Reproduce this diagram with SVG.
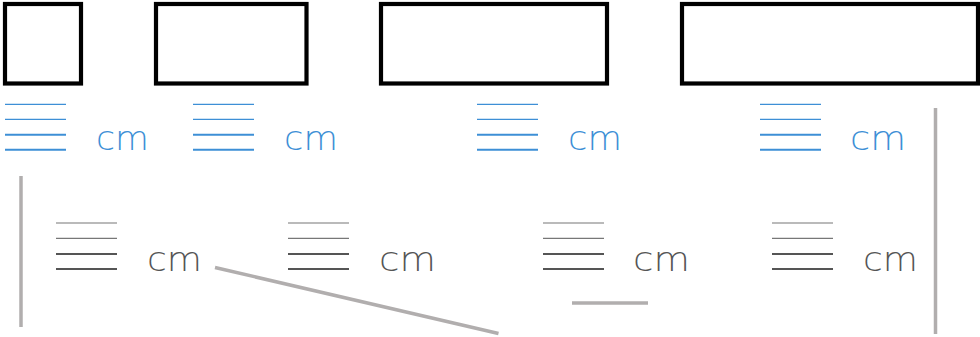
<svg xmlns="http://www.w3.org/2000/svg" width="980" height="337" viewBox="0 0 980 337">
<style>
.box{fill:#fff;stroke:#000;stroke-width:4.2}
.bt{stroke:#3d8fd6;stroke-width:1.2}
.bb{stroke:#3d8fd6;stroke-width:2}
.gt{stroke:#777;stroke-width:1.2}
.gb{stroke:#555;stroke-width:2}
.cmb{font-family:"DejaVu Sans",sans-serif;font-weight:200;font-size:33px;fill:#3d8fd6}
.cmg{font-family:"DejaVu Sans",sans-serif;font-weight:200;font-size:34px;fill:#555}
.rule{stroke:#b1aeae;stroke-width:3.5;fill:none}
</style>
<rect width="980" height="337" fill="#fff"/>
<g id="box1"><rect class="box" x="5" y="4" width="76" height="79.5"/></g>
<g id="box2"><rect class="box" x="156" y="4" width="150.5" height="79.5"/></g>
<g id="box3"><rect class="box" x="381" y="4" width="226" height="79.5"/></g>
<g id="box4"><rect class="box" x="682" y="4" width="296" height="79.5"/></g>

<g id="blank-top-1">
<line class="bt" x1="5" y1="104.3" x2="66" y2="104.3"/><line class="bt" x1="5" y1="119.3" x2="66" y2="119.3"/>
<line class="bb" x1="5" y1="134.7" x2="66" y2="134.7"/><line class="bb" x1="5" y1="149.7" x2="66" y2="149.7"/>
<text class="cmb" x="96" y="150" textLength="53" lengthAdjust="spacingAndGlyphs">cm</text>
</g>
<g id="blank-top-2">
<line class="bt" x1="193" y1="104.3" x2="254" y2="104.3"/><line class="bt" x1="193" y1="119.3" x2="254" y2="119.3"/>
<line class="bb" x1="193" y1="134.7" x2="254" y2="134.7"/><line class="bb" x1="193" y1="149.7" x2="254" y2="149.7"/>
<text class="cmb" x="284" y="150" textLength="54" lengthAdjust="spacingAndGlyphs">cm</text>
</g>
<g id="blank-top-3">
<line class="bt" x1="477" y1="104.3" x2="538" y2="104.3"/><line class="bt" x1="477" y1="119.3" x2="538" y2="119.3"/>
<line class="bb" x1="477" y1="134.7" x2="538" y2="134.7"/><line class="bb" x1="477" y1="149.7" x2="538" y2="149.7"/>
<text class="cmb" x="568" y="150" textLength="54" lengthAdjust="spacingAndGlyphs">cm</text>
</g>
<g id="blank-top-4">
<line class="bt" x1="760" y1="104.3" x2="821" y2="104.3"/><line class="bt" x1="760" y1="119.3" x2="821" y2="119.3"/>
<line class="bb" x1="760" y1="134.7" x2="821" y2="134.7"/><line class="bb" x1="760" y1="149.7" x2="821" y2="149.7"/>
<text class="cmb" x="850" y="150" textLength="56" lengthAdjust="spacingAndGlyphs">cm</text>
</g>

<g id="blank-bottom-1">
<line class="gt" x1="56" y1="223" x2="117" y2="223"/><line class="gt" x1="56" y1="238.3" x2="117" y2="238.3"/>
<line class="gb" x1="56" y1="254" x2="117" y2="254"/><line class="gb" x1="56" y1="269" x2="117" y2="269"/>
<text class="cmg" x="147" y="270.5" textLength="55" lengthAdjust="spacingAndGlyphs">cm</text>
</g>
<g id="blank-bottom-2">
<line class="gt" x1="288" y1="223" x2="349" y2="223"/><line class="gt" x1="288" y1="238.3" x2="349" y2="238.3"/>
<line class="gb" x1="288" y1="254" x2="349" y2="254"/><line class="gb" x1="288" y1="269" x2="349" y2="269"/>
<text class="cmg" x="379" y="270.5" textLength="57" lengthAdjust="spacingAndGlyphs">cm</text>
</g>
<g id="blank-bottom-3">
<line class="gt" x1="543" y1="223" x2="604" y2="223"/><line class="gt" x1="543" y1="238.3" x2="604" y2="238.3"/>
<line class="gb" x1="543" y1="254" x2="604" y2="254"/><line class="gb" x1="543" y1="269" x2="604" y2="269"/>
<text class="cmg" x="633" y="270.5" textLength="57" lengthAdjust="spacingAndGlyphs">cm</text>
</g>
<g id="blank-bottom-4">
<line class="gt" x1="772" y1="223" x2="833" y2="223"/><line class="gt" x1="772" y1="238.3" x2="833" y2="238.3"/>
<line class="gb" x1="772" y1="254" x2="833" y2="254"/><line class="gb" x1="772" y1="269" x2="833" y2="269"/>
<text class="cmg" x="863" y="270.5" textLength="55" lengthAdjust="spacingAndGlyphs">cm</text>
</g>

<g id="connectors">
<line class="rule" x1="21" y1="176" x2="21" y2="327"/>
<line class="rule" x1="935.5" y1="108" x2="935.5" y2="334"/>
<line class="rule" x1="215" y1="267.5" x2="498.5" y2="333.5"/>
<line class="rule" x1="572" y1="303" x2="648" y2="303"/>
</g>
</svg>
